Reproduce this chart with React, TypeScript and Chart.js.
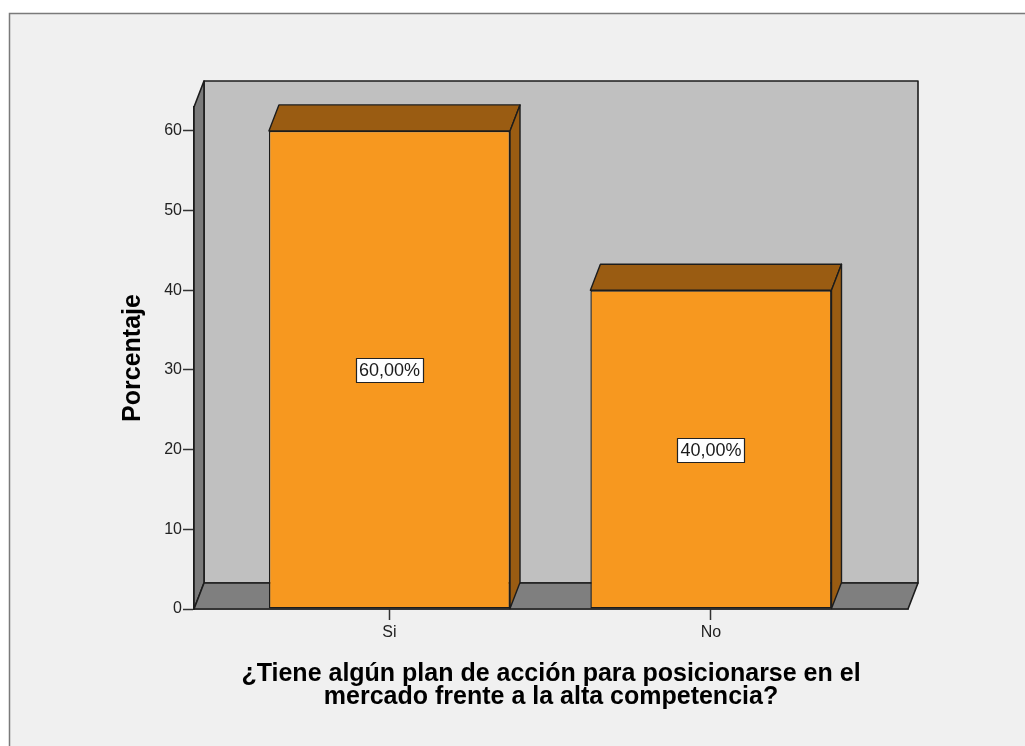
import React, { useEffect, useRef } from "react";
import { Chart, registerables } from "chart.js";

Chart.register(...registerables);

const CATEGORIES = ["Si", "No"];
const VALUES = [60, 40];
const Y_TICK_STEP = 10;
const Y_MAX = 63;
const Y_TITLE = "Porcentaje";
const X_TITLE = ["¿Tiene algún plan de acción para posicionarse en el", "mercado frente a la alta competencia?"];

const FONT = "'Liberation Sans', Arial, Helvetica, sans-serif";
const DX = 10;
const DY = -26;

const fmt = (v: number) => v.toFixed(2).replace(".", ",") + "%";

const threeD = {
  id: "threeD",
  beforeDraw(chart: any) {
    const { ctx, width, height } = chart;
    ctx.save();
    ctx.fillStyle = "#ffffff";
    ctx.fillRect(0, 0, width, height);
    ctx.fillStyle = "#f0f0f0";
    ctx.fillRect(9.5, 13.5, width + 20, height + 20);
    ctx.strokeStyle = "#7a7a7a";
    ctx.lineWidth = 1.5;
    ctx.strokeRect(9.5, 13.5, width + 20, height + 20);
    ctx.restore();
  },
  beforeDatasetsDraw(chart: any) {
    const { ctx, chartArea } = chart;
    const { left, right, top, bottom } = chartArea;
    ctx.save();
    ctx.lineJoin = "round";
    ctx.strokeStyle = "#1c1c1c";
    ctx.lineWidth = 1.6;
    // back wall
    ctx.fillStyle = "#c0c0c0";
    ctx.beginPath();
    ctx.rect(left + DX, top + DY, right - left, bottom - top);
    ctx.fill();
    ctx.stroke();
    // left wall
    ctx.fillStyle = "#7b7b7b";
    ctx.beginPath();
    ctx.moveTo(left, top);
    ctx.lineTo(left + DX, top + DY);
    ctx.lineTo(left + DX, bottom + DY);
    ctx.lineTo(left, bottom);
    ctx.closePath();
    ctx.fill();
    ctx.stroke();
    // floor
    ctx.fillStyle = "#7f7f7f";
    ctx.beginPath();
    ctx.moveTo(left, bottom);
    ctx.lineTo(left + DX, bottom + DY);
    ctx.lineTo(right + DX, bottom + DY);
    ctx.lineTo(right, bottom);
    ctx.closePath();
    ctx.fill();
    ctx.stroke();
    ctx.restore();
  },
  afterDatasetsDraw(chart: any) {
    const { ctx } = chart;
    const meta = chart.getDatasetMeta(0);
    const yScale = chart.scales.y;
    ctx.save();
    ctx.lineJoin = "round";
    meta.data.forEach((bar: any, i: number) => {
      const { x, y, base, width } = bar.getProps(["x", "y", "base", "width"], true);
      const l = x - width / 2;
      const r = x + width / 2;
      ctx.strokeStyle = "#1c1c1c";
      ctx.lineWidth = 1.4;
      ctx.fillStyle = "#9a5c12";
      // top face
      ctx.beginPath();
      ctx.moveTo(l, y);
      ctx.lineTo(l + DX, y + DY);
      ctx.lineTo(r + DX, y + DY);
      ctx.lineTo(r, y);
      ctx.closePath();
      ctx.fill();
      ctx.stroke();
      // side face
      ctx.beginPath();
      ctx.moveTo(r, y);
      ctx.lineTo(r + DX, y + DY);
      ctx.lineTo(r + DX, base + DY);
      ctx.lineTo(r, base);
      ctx.closePath();
      ctx.fill();
      ctx.stroke();
      // value label
      const v = VALUES[i];
      const text = fmt(v);
      const cy = yScale.getPixelForValue(v / 2);
      ctx.font = `18px ${FONT}`;
      const tw = ctx.measureText(text).width;
      const bw = Math.round(tw + 6);
      const bh = 24;
      const bx = Math.round(x - bw / 2) + 0.5;
      const by = Math.round(cy - bh / 2) + 0.5;
      ctx.fillStyle = "#ffffff";
      ctx.fillRect(bx, by, bw, bh);
      ctx.lineWidth = 1.2;
      ctx.strokeStyle = "#222";
      ctx.strokeRect(bx, by, bw, bh);
      ctx.fillStyle = "#1a1a1a";
      ctx.textAlign = "center";
      ctx.textBaseline = "middle";
      ctx.fillText(text, x, cy + 1);
    });
    ctx.restore();
  },
};

export default function App() {
  const ref = useRef<HTMLCanvasElement>(null);

  useEffect(() => {
    if (!ref.current) return;
    const chart = new Chart(ref.current, {
      type: "bar",
      data: {
        datasets: [
          {
            data: VALUES.map((v, i) => ({ x: i, y: v })),
            backgroundColor: "#f7981f",
            borderColor: "#1c1c1c",
            borderWidth: 1.4,
            borderSkipped: false,
            barPercentage: 0.75,
            categoryPercentage: 1,
          },
        ],
      },
      options: {
        responsive: false,
        animation: false,
        events: [],
        layout: { padding: { top: 107, right: 117, left: 0, bottom: 0 } },
        plugins: { legend: { display: false }, tooltip: { enabled: false } },
        scales: {
          x: {
            type: "linear",
            offset: false,
            min: -0.608,
            max: 1.613,
            afterBuildTicks: (scale: any) => {
              scale.ticks = CATEGORIES.map((_, i) => ({ value: i }));
            },
            afterFit: (scale: any) => {
              scale.height = 137;
            },
            grid: { offset: false, drawOnChartArea: false, drawTicks: true, tickLength: 11, tickColor: "#333", tickWidth: 1.5 },
            border: { display: true, color: "#1c1c1c", width: 1.5 },
            ticks: {
              padding: 3,
              color: "#222",
              font: { family: FONT, size: 16 },
              callback: (v: any) => CATEGORIES[v as number] ?? "",
            },
            title: {
              display: true,
              text: X_TITLE,
              color: "#000",
              font: { family: FONT, size: 25, weight: "bold", lineHeight: 0.92 },
              padding: { top: 0, bottom: 37 },
            },
          },
          y: {
            type: "linear",
            min: 0,
            max: Y_MAX,
            afterFit: (scale: any) => {
              scale.width = 194;
            },
            grid: { drawOnChartArea: false, drawTicks: true, tickLength: 11, tickColor: "#333", tickWidth: 1.5 },
            border: { display: true, color: "#1c1c1c", width: 1.5 },
            ticks: {
              stepSize: Y_TICK_STEP,
              includeBounds: false,
              padding: 1,
              color: "#222",
              font: { family: FONT, size: 16 },
            },
            title: {
              display: true,
              text: Y_TITLE,
              color: "#000",
              font: { family: FONT, size: 25, weight: "bold", lineHeight: 1.2 },
              padding: { top: 118, bottom: 0 },
            },
          },
        },
      },
      plugins: [threeD],
    } as any);
    return () => chart.destroy();
  }, []);

  return (
    <div style={{ position: "absolute", left: 0, top: 0, width: 1025, height: 746 }}>
      <canvas ref={ref} width={1025} height={746} style={{ display: "block" }} />
    </div>
  );
}
